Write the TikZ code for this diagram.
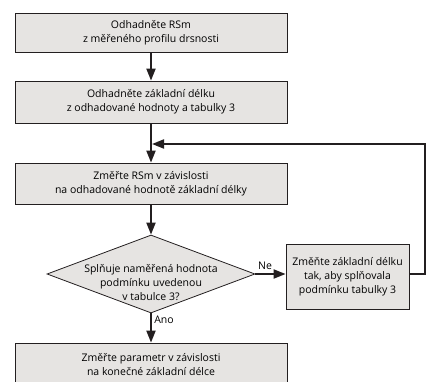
\documentclass[tikz,border=0pt]{standalone}
\usepackage{fontspec}
\setmainfont{Open Sans}
\usetikzlibrary{shapes.geometric,arrows.meta,calc}

\definecolor{boxgray}{HTML}{E6E4E2}
\definecolor{inkline}{HTML}{231F20}

\begin{document}
\begin{tikzpicture}[x=1pt,y=-1pt,
    stepbox/.style={draw=inkline,fill=boxgray,line width=0.8pt,inner sep=0pt,
      minimum width=272pt,align=center,font=\fontsize{10.5}{14}\selectfont},
    decision/.style={diamond,draw=inkline,fill=boxgray,line width=0.8pt,
      minimum width=208pt,minimum height=78pt,inner sep=0pt,aspect=2.67},
    flow/.style={draw=inkline,line width=2pt,-{Triangle[length=12pt,width=9pt]}},
    lbl/.style={font=\fontsize{10.5}{14}\selectfont,inner sep=1pt}]
    \clip (0,0) rectangle (428,381);
    \node[stepbox,minimum height=39pt] (estrsm) at (151,32.5)
      {Odhadněte RSm\\z měřeného profilu drsnosti};
    \node[stepbox,minimum height=42pt] (estlen) at (151,102)
      {Odhadněte základní délku\\z odhadované hodnoty a tabulky 3};
    \node[stepbox,minimum height=41pt] (measrsm) at (151,183.5)
      {Změřte RSm v závislosti\\na odhadované hodnotě základní délky};
    \node[decision] (check) at (151,274) {};
    \node[lbl,align=center] (checktxt) at (151,283)
      {Splňuje naměřená hodnota\\podmínku uvedenou\\v tabulce 3?};
    \node[stepbox,minimum width=123pt,minimum height=65pt] (change) at (347.5,276.5)
      {Změňte základní délku\\tak, aby splňovala\\podmínku tabulky 3};
    \node[stepbox,minimum height=43pt] (final) at (151,364.5)
      {Změřte parametr v závislosti\\na konečné základní délce};
    \coordinate (join) at (151,144);

    \draw[flow] (estrsm) -- (estlen);
    \draw[flow] (estlen) -- (measrsm);
    \draw[flow] (measrsm) -- (check);
    \draw[flow] (check.east) -- (change.west |- check.east);
    \draw[flow] (check) -- (final);
    \draw[flow,shorten >=1pt] (change.east |- check.east) -- ++(16,0) |- (join);
    \node[lbl] (ne) at (265,266) {Ne};
    \node[lbl] (ano) at (164,320) {Ano};
\end{tikzpicture}
\end{document}
